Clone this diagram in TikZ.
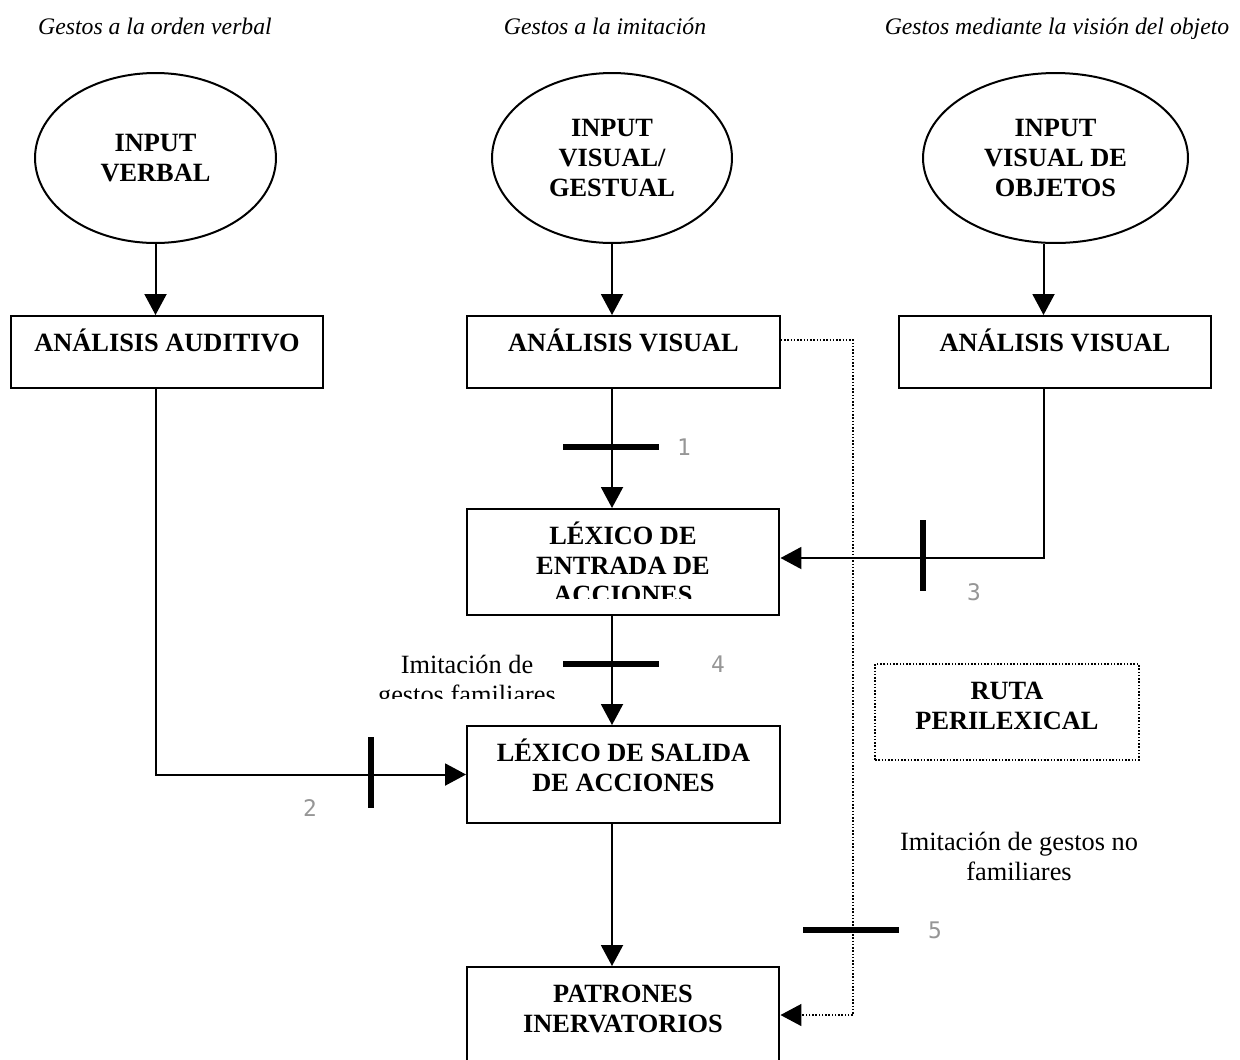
\documentclass[tikz,border=0pt]{standalone}
\usepackage{fontspec}
\setmainfont{Liberation Serif}
\newfontfamily\numfont{DejaVu Sans Mono}
\usetikzlibrary{shapes.geometric,arrows.meta}
\definecolor{gris}{RGB}{150,150,150}
\newcommand{\tope}{\rule{0pt}{15pt}}
\tikzset{
  caja/.style={draw, line width=0.04cm, minimum width=6.26cm, inner sep=0pt},
  ovalo/.style={draw, ellipse, line width=0.04cm, minimum height=3.4cm, inner sep=2pt,
    align=center, font=\fontsize{15}{17}\selectfont\bfseries},
  rotulo/.style={align=center, inner sep=0pt, anchor=north, font=\fontsize{15}{17}\selectfont\bfseries},
  nota/.style={align=center, inner sep=0pt, anchor=north, font=\fontsize{15}{17}\selectfont},
  titulo/.style={anchor=base, inner sep=0pt, font=\fontsize{13.5}{16}\selectfont\itshape},
  numero/.style={text=gris, inner sep=0pt, font=\fontsize{13}{15}\numfont},
  flecha/.style={line width=0.04cm, -{Triangle[length=0.42cm,width=0.44cm]}},
  punteada/.style={line width=0.03cm, dash pattern=on 0.03cm off 0.035cm},
  barra/.style={line width=0.12cm}
}
\begin{document}
\begin{tikzpicture}[x=0.02cm, y=-0.02cm]
  \useasboundingbox (0,0) rectangle (1240,1059);

  % titulos de las tres vias
  \node[titulo] (tVerbal) at (155,34) {Gestos a la orden verbal};
  \node[titulo] (tImita) at (605,34) {Gestos a la imitación};
  \node[titulo] (tObjeto) at (1057,34) {Gestos mediante la visión del objeto};

  % entradas
  \node[ovalo, minimum width=4.82cm] (inVerbal) at (155.5,158) {INPUT\\VERBAL};
  \node[ovalo, minimum width=4.80cm] (inGestual) at (612,158) {INPUT\\VISUAL/\\GESTUAL};
  \node[ovalo, minimum width=5.30cm] (inObjetos) at (1055.5,158) {INPUT\\VISUAL DE\\OBJETOS};

  % cajas
  \node[caja, minimum height=1.44cm] (audit) at (167,352) {};
  \node[caja, minimum height=1.44cm] (visG) at (623.5,352) {};
  \node[caja, minimum height=1.44cm] (visO) at (1055,352) {};
  \node[caja, minimum height=2.12cm] (lexEnt) at (623,562) {};
  \node[caja, minimum height=1.94cm] (lexSal) at (623.5,774.5) {};
  \node[caja, minimum height=1.92cm] (patron) at (623,1015) {};
  \node[caja, punteada, minimum width=5.28cm, minimum height=1.92cm] (ruta) at (1007,712) {};

  \node[rotulo] (tAudit) at ([yshift=-0.19cm]audit.north) {\tope ANÁLISIS AUDITIVO};
  \node[rotulo] (tVisG) at ([yshift=-0.19cm]visG.north) {\tope ANÁLISIS VISUAL};
  \node[rotulo] (tVisO) at ([yshift=-0.19cm]visO.north) {\tope ANÁLISIS VISUAL};
  \begin{scope}
    \clip (lexEnt.north west) rectangle ([yshift=0.36cm]lexEnt.south east);
    \node[rotulo] (tLexEnt) at ([yshift=-0.19cm]lexEnt.north) {\tope LÉXICO DE\\ENTRADA DE\\ACCIONES};
  \end{scope}
  \node[rotulo] (tLexSal) at ([yshift=-0.19cm]lexSal.north) {\tope LÉXICO DE SALIDA\\DE ACCIONES};
  \node[rotulo] (tPatron) at ([yshift=-0.19cm]patron.north) {\tope PATRONES\\INERVATORIOS};
  \node[rotulo] (tRuta) at ([yshift=-0.19cm]ruta.north) {\tope RUTA\\PERILEXICAL};

  % notas
  \begin{scope}
    \clip (300,630) rectangle (640,698);
    \node[nota] (nFamiliar) at (467,647) {\tope Imitación de\\gestos familiares};
  \end{scope}
  \node[nota] (nNoFamiliar) at (1019,824) {\tope Imitación de gestos no\\familiares};

  % conexiones
  \coordinate (ejeO) at ([xshift=-0.24cm]inObjetos.south);
  \draw[flecha] (inVerbal.south) -- (inVerbal.south |- audit.north);
  \draw[flecha] (inGestual.south) -- (inGestual.south |- visG.north);
  \draw[flecha] (ejeO) -- (ejeO |- visO.north);
  \draw[flecha] (inGestual.south |- visG.south) -- (inGestual.south |- lexEnt.north);
  \draw[flecha] (inGestual.south |- lexEnt.south) -- (inGestual.south |- lexSal.north);
  \draw[flecha] (inGestual.south |- lexSal.south) -- (inGestual.south |- patron.north);
  \draw[flecha] (inVerbal.south |- audit.south) |- (lexSal.west);
  \draw[flecha] (ejeO |- visO.south) |- ([yshift=0.08cm]lexEnt.east);
  \draw[punteada, -{Triangle[length=0.42cm,width=0.44cm]}]
    ([yshift=0.24cm]visG.east) -- ++(72,0) |- (patron.east);

  % cortes
  \draw[barra] (611,447) ++(-48,0) -- ++(96,0);
  \draw[barra] (371,737) -- ++(0,71);
  \draw[barra] (923,520) -- ++(0,71);
  \draw[barra] (611,664) ++(-48,0) -- ++(96,0);
  \draw[barra] (851,930) ++(-48,0) -- ++(96,0);

  \node[numero] (n1) at (684,447) {1};
  \node[numero] (n2) at (310,808) {2};
  \node[numero] (n3) at (974,592) {3};
  \node[numero] (n4) at (718,664) {4};
  \node[numero] (n5) at (935,930) {5};
\end{tikzpicture}
\end{document}
